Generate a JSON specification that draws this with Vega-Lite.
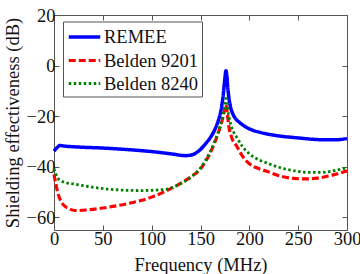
{
  "$schema": "https://vega.github.io/schema/vega-lite/v6.json",
  "width": 293,
  "height": 215,
  "autosize": {"type": "none"},
  "padding": {"left": 54, "top": 15, "right": 13, "bottom": 44},
  "background": "white",
  "config": {
    "font": "Liberation Serif",
    "view": {"stroke": "#555555", "strokeWidth": 1},
    "axis": {
      "domain": false,
      "grid": false,
      "tickSize": -5,
      "tickColor": "#555555",
      "labelFont": "Liberation Serif",
      "labelFontSize": 18.5,
      "labelColor": "#111111",
      "titleFont": "Liberation Serif",
      "titleFontSize": 18.5,
      "titleFontWeight": "normal",
      "titleColor": "#111111"
    }
  },
  "data": {
    "values": [
      {"s": "REMEE", "f": 0, "v": -33.8},
      {"s": "REMEE", "f": 3, "v": -32.5},
      {"s": "REMEE", "f": 6, "v": -31.6},
      {"s": "REMEE", "f": 10, "v": -31.8},
      {"s": "REMEE", "f": 25, "v": -32.2},
      {"s": "REMEE", "f": 50, "v": -32.6},
      {"s": "REMEE", "f": 75, "v": -33.2},
      {"s": "REMEE", "f": 100, "v": -34},
      {"s": "REMEE", "f": 120, "v": -34.9},
      {"s": "REMEE", "f": 135, "v": -35.6},
      {"s": "REMEE", "f": 142, "v": -35.2},
      {"s": "REMEE", "f": 148, "v": -33.8},
      {"s": "REMEE", "f": 155, "v": -31},
      {"s": "REMEE", "f": 160, "v": -28.5},
      {"s": "REMEE", "f": 165, "v": -25},
      {"s": "REMEE", "f": 168, "v": -22},
      {"s": "REMEE", "f": 171, "v": -17.5},
      {"s": "REMEE", "f": 173, "v": -12.5},
      {"s": "REMEE", "f": 175, "v": -5},
      {"s": "REMEE", "f": 176, "v": -2},
      {"s": "REMEE", "f": 177, "v": -4},
      {"s": "REMEE", "f": 178, "v": -9},
      {"s": "REMEE", "f": 180, "v": -15},
      {"s": "REMEE", "f": 183, "v": -19},
      {"s": "REMEE", "f": 186, "v": -21},
      {"s": "REMEE", "f": 190, "v": -22.5},
      {"s": "REMEE", "f": 200, "v": -25},
      {"s": "REMEE", "f": 212, "v": -26.5},
      {"s": "REMEE", "f": 225, "v": -27.5},
      {"s": "REMEE", "f": 250, "v": -28.6},
      {"s": "REMEE", "f": 275, "v": -29.3},
      {"s": "REMEE", "f": 290, "v": -29.3},
      {"s": "REMEE", "f": 300, "v": -28.8},
      {"s": "Belden 9201", "f": 0, "v": -43},
      {"s": "Belden 9201", "f": 2, "v": -47},
      {"s": "Belden 9201", "f": 4, "v": -50.5},
      {"s": "Belden 9201", "f": 7, "v": -53.5},
      {"s": "Belden 9201", "f": 10, "v": -55.2},
      {"s": "Belden 9201", "f": 15, "v": -56.5},
      {"s": "Belden 9201", "f": 20, "v": -57.2},
      {"s": "Belden 9201", "f": 25, "v": -57.3},
      {"s": "Belden 9201", "f": 35, "v": -57},
      {"s": "Belden 9201", "f": 50, "v": -56.3},
      {"s": "Belden 9201", "f": 75, "v": -54.6},
      {"s": "Belden 9201", "f": 100, "v": -52},
      {"s": "Belden 9201", "f": 115, "v": -49.5},
      {"s": "Belden 9201", "f": 129, "v": -46.7},
      {"s": "Belden 9201", "f": 140, "v": -44},
      {"s": "Belden 9201", "f": 150, "v": -40.8},
      {"s": "Belden 9201", "f": 155, "v": -38},
      {"s": "Belden 9201", "f": 160, "v": -34.5},
      {"s": "Belden 9201", "f": 165, "v": -30},
      {"s": "Belden 9201", "f": 170, "v": -24.5},
      {"s": "Belden 9201", "f": 173, "v": -20.5},
      {"s": "Belden 9201", "f": 175, "v": -17},
      {"s": "Belden 9201", "f": 176, "v": -15.5},
      {"s": "Belden 9201", "f": 177, "v": -17.5},
      {"s": "Belden 9201", "f": 179, "v": -24},
      {"s": "Belden 9201", "f": 182, "v": -28.5},
      {"s": "Belden 9201", "f": 187, "v": -31.8},
      {"s": "Belden 9201", "f": 193, "v": -35.8},
      {"s": "Belden 9201", "f": 200, "v": -38.8},
      {"s": "Belden 9201", "f": 210, "v": -40.8},
      {"s": "Belden 9201", "f": 218, "v": -41.8},
      {"s": "Belden 9201", "f": 230, "v": -43.5},
      {"s": "Belden 9201", "f": 245, "v": -44.6},
      {"s": "Belden 9201", "f": 258, "v": -44.8},
      {"s": "Belden 9201", "f": 270, "v": -44.5},
      {"s": "Belden 9201", "f": 285, "v": -43.3},
      {"s": "Belden 9201", "f": 300, "v": -41.6},
      {"s": "Belden 8240", "f": 0, "v": -40.8},
      {"s": "Belden 8240", "f": 2, "v": -43},
      {"s": "Belden 8240", "f": 4, "v": -44.5},
      {"s": "Belden 8240", "f": 7, "v": -45.5},
      {"s": "Belden 8240", "f": 12, "v": -46.3},
      {"s": "Belden 8240", "f": 20, "v": -46.8},
      {"s": "Belden 8240", "f": 35, "v": -47.8},
      {"s": "Belden 8240", "f": 54, "v": -48.8},
      {"s": "Belden 8240", "f": 75, "v": -49.3},
      {"s": "Belden 8240", "f": 90, "v": -49.4},
      {"s": "Belden 8240", "f": 105, "v": -49.2},
      {"s": "Belden 8240", "f": 116, "v": -48.8},
      {"s": "Belden 8240", "f": 125, "v": -47.6},
      {"s": "Belden 8240", "f": 135, "v": -45.5},
      {"s": "Belden 8240", "f": 142, "v": -43.5},
      {"s": "Belden 8240", "f": 150, "v": -40.5},
      {"s": "Belden 8240", "f": 155, "v": -37.5},
      {"s": "Belden 8240", "f": 160, "v": -34},
      {"s": "Belden 8240", "f": 165, "v": -29.5},
      {"s": "Belden 8240", "f": 170, "v": -24},
      {"s": "Belden 8240", "f": 173, "v": -19.5},
      {"s": "Belden 8240", "f": 175, "v": -15.5},
      {"s": "Belden 8240", "f": 176, "v": -13},
      {"s": "Belden 8240", "f": 177, "v": -15},
      {"s": "Belden 8240", "f": 179, "v": -20},
      {"s": "Belden 8240", "f": 182, "v": -24.5},
      {"s": "Belden 8240", "f": 187, "v": -28.3},
      {"s": "Belden 8240", "f": 193, "v": -32},
      {"s": "Belden 8240", "f": 200, "v": -34.9},
      {"s": "Belden 8240", "f": 210, "v": -37.3},
      {"s": "Belden 8240", "f": 218, "v": -38.5},
      {"s": "Belden 8240", "f": 230, "v": -40.2},
      {"s": "Belden 8240", "f": 245, "v": -41.5},
      {"s": "Belden 8240", "f": 260, "v": -42.2},
      {"s": "Belden 8240", "f": 275, "v": -42.2},
      {"s": "Belden 8240", "f": 290, "v": -41.3},
      {"s": "Belden 8240", "f": 300, "v": -40.3}
    ]
  },
  "layer": [
    {
      "mark": {"type": "line", "opacity": 0},
      "encoding": {
        "x": {"field": "f", "type": "quantitative", "scale": {"domain": [0, 300], "nice": false}, "axis": {"orient": "top", "labels": false, "title": null, "values": [0, 50, 100, 150, 200, 250, 300]}},
        "y": {"field": "v", "type": "quantitative", "scale": {"domain": [-65, 20], "nice": false, "zero": false}, "axis": {"orient": "right", "labels": false, "title": null, "values": [-60, -40, -20, 0, 20]}},
        "detail": {"field": "s"}
      }
    },
    {
      "mark": {"type": "line", "interpolate": "monotone"},
      "encoding": {
        "x": {"field": "f", "type": "quantitative", "scale": {"domain": [0, 300], "nice": false}, "axis": {"orient": "bottom", "title": "Frequency (MHz)", "values": [0, 50, 100, 150, 200, 250, 300], "labelPadding": 4, "titlePadding": 8, "labelFlush": false}},
        "y": {"field": "v", "type": "quantitative", "scale": {"domain": [-65, 20], "nice": false, "zero": false}, "axis": {"orient": "left", "title": "Shielding effectiveness (dB)", "values": [-60, -40, -20, 0, 20], "labelPadding": 4, "titlePadding": 4}},
        "color": {
          "field": "s", "type": "nominal", "title": null,
          "sort": ["REMEE", "Belden 9201", "Belden 8240"],
          "scale": {"domain": ["REMEE", "Belden 9201", "Belden 8240"], "range": ["#0000ff", "#ff0000", "#008000"]},
          "legend": {
            "orient": "none", "legendX": 9, "legendY": 6.5,
            "symbolType": "M-1.5,0H1.5", "symbolSize": 441, "symbolStrokeWidth": 3,
            "symbolOffset": 6,
            "labelFont": "Liberation Serif", "labelFontSize": 18.5, "labelColor": "#111111",
            "labelOffset": 7, "rowPadding": 1.5, "padding": 3,
            "strokeColor": "#555555", "fillColor": "white", "labelLimit": 200
          }
        },
        "strokeDash": {
          "field": "s", "type": "nominal", "title": null,
          "sort": ["REMEE", "Belden 9201", "Belden 8240"],
          "scale": {"domain": ["REMEE", "Belden 9201", "Belden 8240"], "range": [[1, 0], [7, 3], [2.5, 2.5]]}
        },
        "strokeWidth": {
          "field": "s", "type": "nominal", "title": null,
          "sort": ["REMEE", "Belden 9201", "Belden 8240"],
          "scale": {"domain": ["REMEE", "Belden 9201", "Belden 8240"], "range": [3.5, 2.8, 2.8]}
        }
      }
    }
  ],
  "resolve": {"axis": {"x": "independent", "y": "independent"}}
}
